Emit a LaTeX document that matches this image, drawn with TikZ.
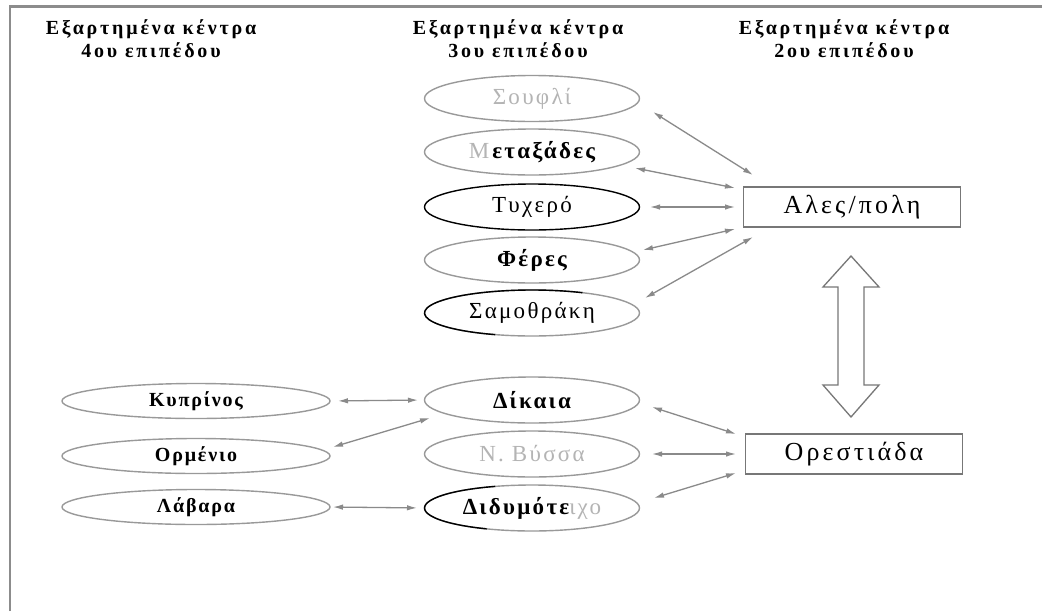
\documentclass[tikz,border=0pt]{standalone}
\usepackage{fontspec}
\setmainfont{Liberation Serif}
\newfontfamily\hdrfont[LetterSpace=14]{Liberation Serif}
\newfontfamily\lblfont[LetterSpace=10]{Liberation Serif}
\newfontfamily\smlfont[LetterSpace=9]{Liberation Serif}
\newfontfamily\boxfont[LetterSpace=12]{Liberation Serif}
\usetikzlibrary{arrows.meta,shapes.geometric,calc}
\definecolor{framegray}{HTML}{8C8C8C}
\definecolor{elgray}{HTML}{999999}
\definecolor{txtgray}{HTML}{B4B4B4}
\definecolor{argray}{HTML}{8A8A8A}
\definecolor{boxgray}{HTML}{777777}
\begin{document}
\begin{tikzpicture}[x=1pt,y=-1pt,
  hdr/.style={font=\hdrfont\bfseries\fontsize{20}{23}\selectfont, align=center, inner sep=0pt},
  el3/.style={ellipse, draw=elgray, line width=1.4pt, minimum width=215pt, minimum height=46pt,
    inner sep=0pt, outer sep=0pt, font=\lblfont\fontsize{23}{26}\selectfont},
  bld/.style={font=\lblfont\bfseries\fontsize{23}{26}\selectfont},
  el4/.style={ellipse, draw=elgray, line width=1.4pt, minimum width=268pt, minimum height=35pt,
    inner sep=0pt, outer sep=0pt, font=\smlfont\bfseries\fontsize{20}{22}\selectfont},
  cbox/.style={rectangle, draw=boxgray, line width=1.3pt, minimum width=217pt, minimum height=40pt,
    inner sep=0pt, outer sep=0pt, font=\boxfont\fontsize{26}{30}\selectfont},
  link/.style={draw=argray, line width=1.3pt, {Latex[length=10pt,width=5.5pt]}-{Latex[length=10pt,width=5.5pt]}},
  darkarc/.style={draw=black, line width=1.4pt}
]
\useasboundingbox (0,0) rectangle (1042,611);
\fill[white] (0,0) rectangle (1042,611);
\draw[framegray, line width=2.5pt] (10,611) -- (10,6.5) -- (1042,6.5);

% headers
\node[hdr] (h4) at (151,38.5) {Εξαρτημένα κέντρα\\4ου επιπέδου};
\node[hdr] (h3) at (518,38.5) {Εξαρτημένα κέντρα\\3ου επιπέδου};
\node[hdr] (h2) at (844,38.5) {Εξαρτημένα κέντρα\\2ου επιπέδου};

% level 3 (top group)
\node[el3, text=txtgray] (souf) at (532,98.5) {Σουφλί};
\node[el3, bld] (meta) at (532,152) {{\color{txtgray}\mdseries Μ}\hspace{3pt}εταξάδες};
\node[el3, draw=black] (tyx) at (532,207) {Τυχερό};
\node[el3, bld] (fer) at (532,260) {Φέρες};
\node[el3] (sam) at (532,313) {Σαμοθράκη};
\draw[darkarc] ($(sam.center)+(-62:107.5 and 23)$) arc[start angle=-62, end angle=-250, x radius=107.5, y radius=23];

% level 3 (bottom group)
\node[el3, bld] (dik) at (532,400) {Δίκαια};
\node[el3, text=txtgray] (nvys) at (532,454) {Ν. Βύσσα};
\node[el3, bld] (did) at (532,508) {Διδυμότε{\color{txtgray}\mdseries ιχο}};
\draw[darkarc] ($(did.center)+(-110:107.5 and 23)$) arc[start angle=-110, end angle=-245, x radius=107.5, y radius=23];

% level 4
\node[el4] (kyp) at (196,401) {Κυπρίνος};
\node[el4] (orm) at (196,456) {Ορμένιο};
\node[el4] (lav) at (196,507) {Λάβαρα};

% level 2
\node[cbox] (alex) at (852,207) {Αλες/πολη};
\node[cbox] (orest) at (854,454) {Ορεστιάδα};

% connectors to Αλεξ/πολη
\draw[link] ($(souf.east)+(13.5,13.5)$) -- ($(alex.north west)+(9.5,-12)$);
\draw[link] ($(meta.east)+(-4.5,16)$) -- ($(alex.west)+(-8.5,-19)$);
\draw[link] ($(tyx.east)+(10.5,0)$) -- ($(alex.west)+(-8.5,0)$);
\draw[link] ($(fer.east)+(3.5,-10)$) -- ($(alex.west)+(-8.5,22)$);
\draw[link] ($(sam.east)+(5.5,-15)$) -- ($(alex.south west)+(9.5,10)$);

% connectors to Ορεστιάδα
\draw[link] ($(dik.east)+(12.5,7)$) -- ($(orest.north west)+(-9.5,0)$);
\draw[link] ($(nvys.east)+(12.5,0)$) -- ($(orest.west)+(-9.5,0)$);
\draw[link] ($(did.east)+(14.5,-10)$) -- ($(orest.south west)+(-9.5,-1)$);

% level 4 to level 3
\draw[link, shorten <=8pt, shorten >=6.5pt] (kyp.east) -- (dik.west);
\draw[link] ($(orm.east)+(3,-9)$) -- ($(dik.west)+(5.5,18)$);
\draw[link, shorten <=3pt, shorten >=7.5pt] (lav.east) -- (did.west);

% big double arrow between the two centres
\draw[draw=boxgray, fill=white, line width=1.3pt, line join=miter]
  (851,256) -- (879,287) -- (864,287) -- (864,385) -- (879,385) -- (851,417)
  -- (823,385) -- (838,385) -- (838,287) -- (823,287) -- cycle;
\end{tikzpicture}
\end{document}
